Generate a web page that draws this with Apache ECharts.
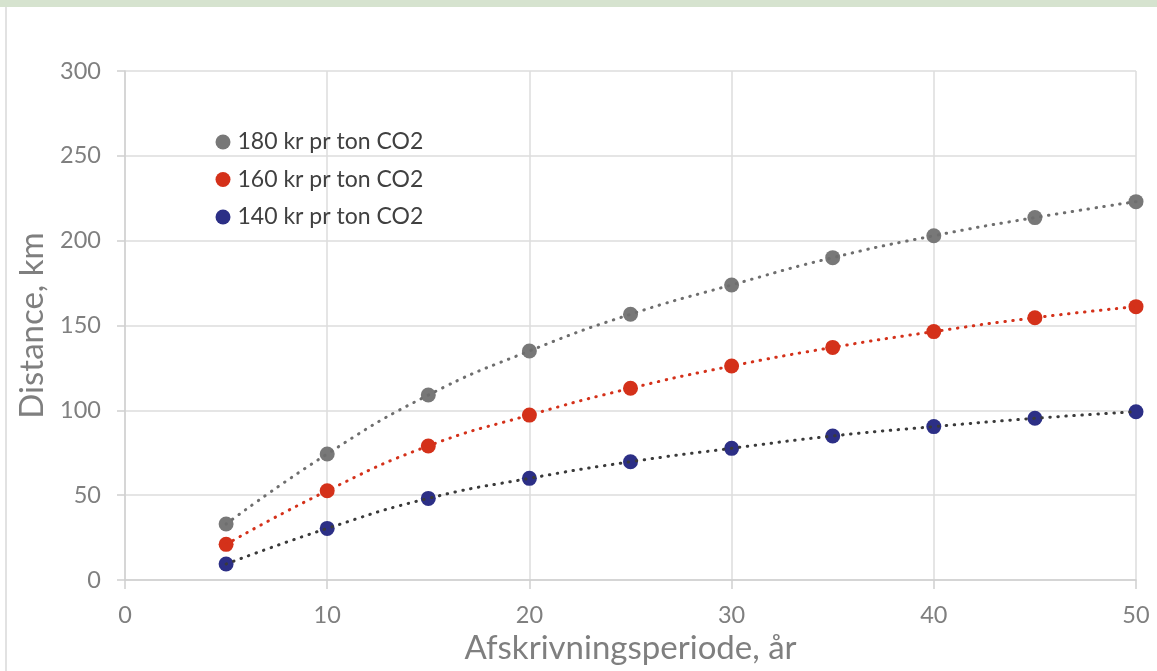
<!DOCTYPE html>
<html>
<head>
<meta charset="utf-8">
<script src="https://cdn.jsdelivr.net/npm/echarts@6/dist/echarts.min.js"></script>
<style>
  html, body { margin: 0; padding: 0; background: #ffffff; }
  #chart { width: 1157px; height: 671px; }
</style>
</head>
<body>
<div id="chart"></div>
<script>
// Afskrivningsperiode (år)
const years = [5, 10, 15, 20, 25, 30, 35, 40, 45, 50];

// Distance (km) per CO2-pris
const seriesNames = ['180 kr pr ton CO2', '160 kr pr ton CO2', '140 kr pr ton CO2'];
const dist180 = [33, 74.3, 109, 135, 156.6, 173.9, 190, 202.9, 213.6, 223];
const dist160 = [21, 52.6, 79, 97.2, 113, 126.1, 137.1, 146.4, 154.6, 161.1];
const dist140 = [9.4, 30.4, 48.1, 59.9, 69.7, 77.6, 84.9, 90.4, 95.3, 99.2];

// Akser
const xTicks = [0, 10, 20, 30, 40, 50];
const yTicks = [0, 50, 100, 150, 200, 250, 300];

const markerColors = ['#787878', '#d4311a', '#2c2f86'];
const trendColors = ['#6e6e6e', '#d4311a', '#3a3a3a'];
const allSeries = [dist180, dist160, dist140];

const pairs = vals => years.map((x, i) => [x, vals[i]]);

const FONT = 'Lato, "Open Sans", sans-serif';
const chart = echarts.init(document.getElementById('chart'), null, { renderer: 'canvas' });

const series = [];
allSeries.forEach((vals, k) => {
  series.push({
    name: seriesNames[k],
    type: 'scatter',
    data: pairs(vals),
    symbol: 'circle',
    symbolSize: 15,
    itemStyle: { color: markerColors[k], opacity: 1 },
    z: 2
  });
});
// stiplede tendenslinjer oven på punkterne
allSeries.forEach((vals, k) => {
  series.push({
    name: seriesNames[k] + ' (tendens)',
    type: 'line',
    data: pairs(vals),
    smooth: 0.5,
    showSymbol: false,
    symbol: 'none',
    silent: true,
    lineStyle: { color: trendColors[k], width: 3, type: [0.5, 7.5], cap: 'round' },
    z: 3
  });
});

chart.setOption({
  animation: false,
  backgroundColor: '#ffffff',
  textStyle: { fontFamily: FONT },
  graphic: [
    { type: 'rect', shape: { x: 0, y: 0, width: 1157, height: 7 }, style: { fill: '#d6e3cf' } },
    { type: 'rect', shape: { x: 5, y: 7, width: 2, height: 664 }, style: { fill: '#e2e2e2' } }
  ],
  grid: { left: 125, right: 21, top: 71, bottom: 91, containLabel: false },
  legend: {
    data: seriesNames,
    orient: 'vertical',
    left: 215.5,
    top: 130.5,
    padding: 0,
    itemWidth: 15,
    itemHeight: 15,
    itemGap: 14.5,
    icon: 'circle',
    textStyle: { fontFamily: FONT, fontSize: 23, color: '#404040', padding: [0, 0, 0, 2] }
  },
  xAxis: {
    type: 'value',
    min: xTicks[0],
    max: xTicks[xTicks.length - 1],
    interval: xTicks[1] - xTicks[0],
    name: 'Afskrivningsperiode, år',
    nameLocation: 'middle',
    nameGap: 50,
    nameTextStyle: { fontFamily: FONT, fontSize: 33, color: '#7f7f7f' },
    axisLine: { show: true, lineStyle: { color: '#d0d0d0', width: 1.5 } },
    axisTick: { show: true, inside: false, length: 9, lineStyle: { color: '#d0d0d0', width: 1.5 } },
    axisLabel: { fontFamily: FONT, fontSize: 23.5, color: '#7f7f7f', margin: 23 },
    splitLine: { show: true, lineStyle: { color: '#dcdcdc', width: 1.5 } }
  },
  yAxis: {
    type: 'value',
    min: yTicks[0],
    max: yTicks[yTicks.length - 1],
    interval: yTicks[1] - yTicks[0],
    name: 'Distance, km',
    nameLocation: 'middle',
    nameGap: 72,
    nameRotate: 90,
    nameTextStyle: { fontFamily: FONT, fontSize: 33, color: '#7f7f7f' },
    axisLine: { show: true, lineStyle: { color: '#d0d0d0', width: 1.5 } },
    axisTick: { show: true, inside: false, length: 8, lineStyle: { color: '#d0d0d0', width: 1.5 } },
    axisLabel: { fontFamily: FONT, fontSize: 23.5, color: '#7f7f7f', margin: 24 },
    splitLine: { show: true, lineStyle: { color: '#dcdcdc', width: 1.5 } }
  },
  series: series
});
</script>
</body>
</html>
